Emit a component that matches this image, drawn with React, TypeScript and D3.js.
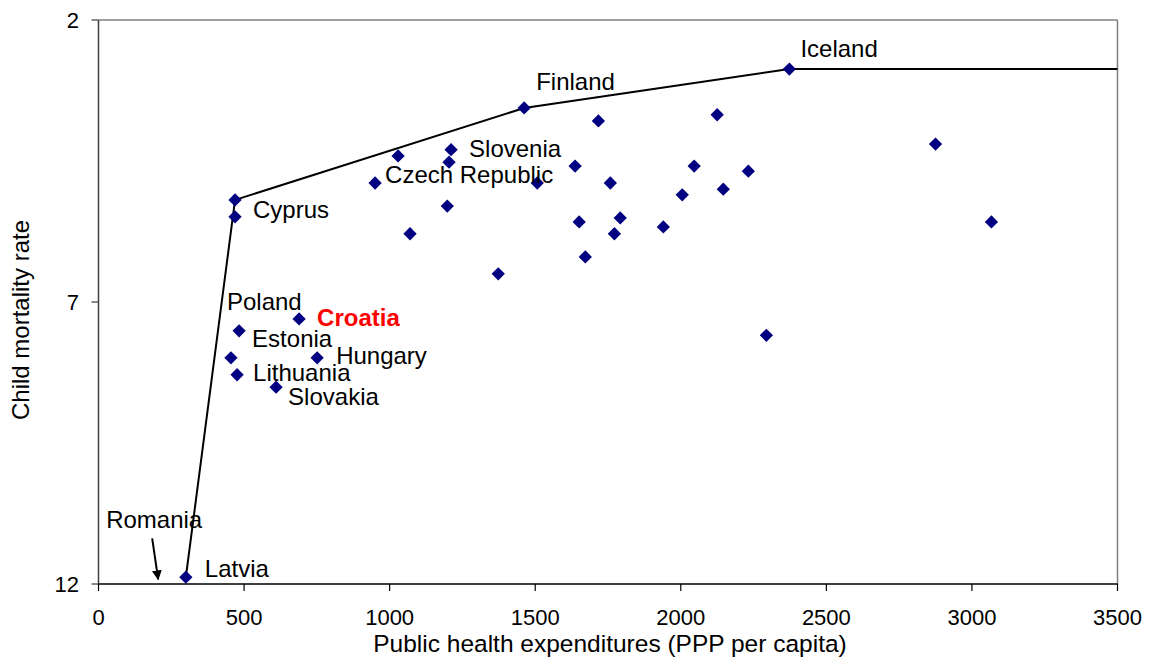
import React from "react";
import * as d3 from "d3";

// Data (public health expenditure PPP per capita, child mortality rate)
const countries = [
  "Latvia", "Cyprus", "Cyprus2", "Estonia", "Poland", "Lithuania", "Slovakia", "Croatia", "Hungary",
  "Czech Republic", "c11", "c12", "c13", "Slovenia", "c15", "Finland", "c17", "c18", "c19", "c20",
  "c21", "c22", "c23", "c24", "c25", "c26", "c27", "c28", "c29", "c30", "c31", "c32", "Iceland", "c34", "c35",
];
const expenditure = [
  300, 469, 469, 483, 455, 476, 610, 689, 751,
  950, 1029, 1070, 1198, 1211, 1204, 1462, 1373, 1507, 1637, 1651,
  1672, 1717, 1758, 1772, 1792, 1940, 2005, 2046, 2125, 2146, 2232, 2294, 2373, 2875, 3067,
];
const mortality = [
  11.88, 5.19, 5.49, 7.51, 7.99, 8.29, 8.51, 7.3, 7.99,
  4.89, 4.41, 5.79, 5.3, 4.3, 4.52, 3.56, 6.5, 4.89, 4.59, 5.58,
  6.2, 3.79, 4.89, 5.79, 5.51, 5.67, 5.1, 4.59, 3.68, 5.0, 4.68, 7.59, 2.87, 4.2, 5.58,
];
const frontierX = [300, 469, 1462, 2373, 3500];
const frontierY = [11.88, 5.19, 3.56, 2.87, 2.87];
const xTicks = [0, 500, 1000, 1500, 2000, 2500, 3000, 3500];
const yTicks = [2, 7, 12];
const romaniaX = 205;
const romaniaY = 11.9;

// Label layout (offsets in px from the point)
const labelOffsets: { name: string; dx: number; dy: number; red?: boolean }[] = [
  { name: "Iceland", dx: 11, dy: -12 },
  { name: "Finland", dx: 12, dy: -18 },
  { name: "Slovenia", dx: 18, dy: 7 },
  { name: "Czech Republic", dx: 10, dy: 0 },
  { name: "Cyprus", dx: 18, dy: 18 },
  { name: "Estonia", dx: 13, dy: 16 },
  { name: "Poland", dx: -4, dy: -48 },
  { name: "Lithuania", dx: 16, dy: 6 },
  { name: "Slovakia", dx: 12, dy: 18 },
  { name: "Croatia", dx: 18, dy: 7, red: true },
  { name: "Hungary", dx: 19, dy: 6 },
  { name: "Latvia", dx: 19, dy: 0 },
];

const W = 1152;
const H = 659;
const x = d3.scaleLinear().domain([0, 3500]).range([98.5, 1117.5]);
const y = d3.scaleLinear().domain([2, 12]).range([20, 584]);
const FONT = "'Liberation Sans', Arial, sans-serif";

export default function App() {
  const line = d3.line<number>().x((_, i) => x(frontierX[i])).y((_, i) => y(frontierY[i]))(frontierX.map((v) => v));
  const diamond = d3.symbol(d3.symbolSquare, 88)();
  const idx = (n: string) => countries.indexOf(n);
  const rx = x(romaniaX);
  const ry = y(romaniaY);
  return (
    <svg width={W} height={H} style={{ position: "absolute", left: 0, top: 0, background: "#fff" }} fontFamily={FONT}>
      <defs>
        <marker id="arr" viewBox="0 0 10 10" refX="9" refY="5" markerWidth="5" markerHeight="5" orient="auto">
          <path d="M0,0 L10,5 L0,10 z" fill="#000" />
        </marker>
      </defs>
      {/* plot border */}
      <line x1={x(0)} x2={x(3500)} y1={y(2)} y2={y(2)} stroke="#808080" strokeWidth={1.5} />
      <line x1={x(3500)} x2={x(3500)} y1={y(2)} y2={y(12)} stroke="#808080" strokeWidth={1.5} />
      <line x1={x(0)} x2={x(0)} y1={y(2)} y2={y(12)} stroke="#404040" strokeWidth={1.5} />
      <line x1={x(0)} x2={x(3500)} y1={y(12)} y2={y(12)} stroke="#000" strokeWidth={1.5} />
      {yTicks.map((t) => (
        <g key={"y" + t}>
          <line x1={x(0) - 7} x2={x(0)} y1={y(t)} y2={y(t)} stroke="#404040" strokeWidth={1.2} />
          <text x={79} y={y(t) + 8} textAnchor="end" fontSize={22}>{t}</text>
        </g>
      ))}
      {xTicks.map((t) => (
        <g key={"x" + t}>
          <line x1={x(t)} x2={x(t)} y1={y(12)} y2={y(12) + 7} stroke="#000" strokeWidth={1.2} />
          <text x={x(t)} y={625} textAnchor="middle" fontSize={22}>{t}</text>
        </g>
      ))}
      <text x={610} y={652} textAnchor="middle" fontSize={24.5}>Public health expenditures (PPP per capita)</text>
      <text transform={`translate(29,320) rotate(-90)`} textAnchor="middle" fontSize={24}>Child mortality rate</text>
      <path d={line || ""} fill="none" stroke="#000" strokeWidth={2} />
      {expenditure.map((v, i) => (
        <path key={i} d={diamond || ""} transform={`translate(${x(v)},${y(mortality[i])}) rotate(45)`} fill="#000080" />
      ))}
      {labelOffsets.map((l) => {
        const i = idx(l.name);
        return (
          <text key={l.name} x={x(expenditure[i]) + l.dx} y={y(mortality[i]) + l.dy} fontSize={24}
            fill={l.red ? "#ff0000" : "#000"} fontWeight={l.red ? "bold" : "normal"}>{l.name}</text>
        );
      })}
      <text x={rx - 52} y={ry - 50} fontSize={24}>Romania</text>
      <line x1={rx - 6} y1={ry - 40} x2={rx} y2={ry + 1} stroke="#000" strokeWidth={2} markerEnd="url(#arr)" />
    </svg>
  );
}
